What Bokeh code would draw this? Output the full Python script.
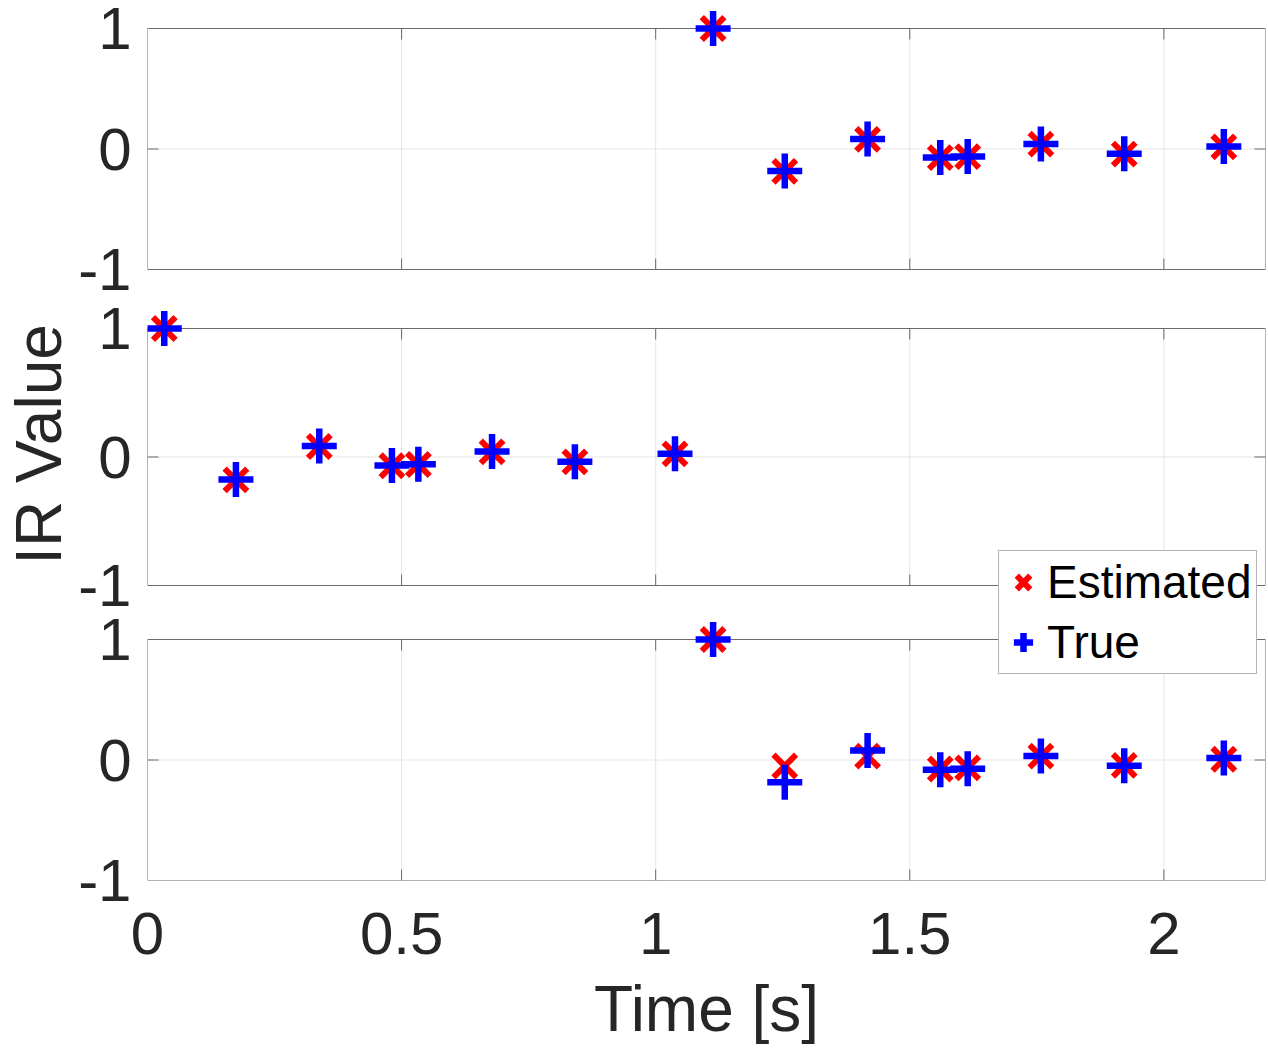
import math
from bokeh.plotting import figure
from bokeh.models import (Range1d, FixedTicker, Legend, LegendItem, CustomJSTickFormatter)
from bokeh.embed import file_html
from bokeh.resources import INLINE

# ---------------- data ----------------
x_top = [1.113, 1.254, 1.417, 1.560, 1.614, 1.758, 1.922, 2.118]
est_top = [1.0, -0.186, 0.080, -0.072, -0.063, 0.040, -0.042, 0.018]
true_top = [1.0, -0.183, 0.083, -0.070, -0.062, 0.042, -0.040, 0.020]

x_mid = [0.033, 0.174, 0.338, 0.481, 0.533, 0.678, 0.841, 1.038]
est_mid = [1.0, -0.178, 0.082, -0.068, -0.058, 0.040, -0.038, 0.024]
true_mid = [1.0, -0.175, 0.085, -0.066, -0.057, 0.042, -0.036, 0.026]

x_bot = [1.113, 1.254, 1.417, 1.560, 1.614, 1.758, 1.922, 2.118]
est_bot = [1.0, -0.050, 0.032, -0.075, -0.065, 0.032, -0.045, 0.006]
true_bot = [1.0, -0.185, 0.078, -0.080, -0.072, 0.034, -0.047, 0.016]

x_ticks = [0, 0.5, 1, 1.5, 2]
x_tick_labels = ["0", "0.5", "1", "1.5", "2"]
y_ticks = [-1, 0, 1]
y_tick_labels = ["-1", "0", "1"]
x_min, x_max = 0, 2.2
y_min, y_max = -1, 1

# ---------------- layout constants (pixels) ----------------
W, H = 1268, 1049
FL, FR = 147, 1265          # frame left/right
FT, FB = 8, 880             # frame top/bottom
panels_px = {"top": (28, 269), "mid": (328, 585), "bot": (639, 880)}
TICK_PX = 11
FONT = "Liberation Sans"
AX_COL = "#262626"
BOX_COL = "#6a6a6a"
GRID_COL = "#e6e6e6"


def panel_range(p1, pm1):
    u = (y_max - y_min) / (pm1 - p1)
    return Range1d(start=y_min - (FB - pm1) * u, end=y_max + (p1 - FT) * u), u


ranges = {}
units = {}
for k, (a, b) in panels_px.items():
    ranges[k], units[k] = panel_range(a, b)

p = figure(frame_width=FR - FL, frame_height=FB - FT,
           x_range=Range1d(start=x_min, end=x_max), y_range=ranges["bot"],
           output_backend="svg", toolbar_location=None,
           min_border_left=FL, min_border_right=W - FR,
           min_border_top=FT, min_border_bottom=H - FB)
p.extra_y_ranges = {"top": ranges["top"], "mid": ranges["mid"]}
p.outline_line_color = None
p.grid.visible = False
p.background_fill_color = "white"
p.border_fill_color = "white"

# x axis (bottom)
xa = p.xaxis[0]
xa.ticker = FixedTicker(ticks=x_ticks)
xa.major_label_overrides = {t: l for t, l in zip(x_ticks, x_tick_labels)}
xa.axis_line_color = None
xa.major_tick_in = 0
xa.major_tick_out = 0
xa.minor_tick_line_color = None
xa.major_label_text_font = FONT
xa.major_label_text_font_size = "60px"
xa.major_label_text_color = AX_COL
xa.major_label_standoff = 32
xa.axis_label = "Time [s]"
xa.axis_label_text_font = FONT
xa.axis_label_text_font_size = "64px"
xa.axis_label_text_font_style = "normal"
xa.axis_label_text_color = AX_COL
xa.axis_label_standoff = 16

# left axis: one axis on the bottom panel's range, with every panel's ticks
# mapped into it through the panels' own ranges
rb = ranges["bot"]
left_pos, left_lab = [], []
for k in ["bot", "mid", "top"]:
    r = ranges[k]
    for v, lab in zip(y_ticks, y_tick_labels):
        f = (v - r.start) / (r.end - r.start)
        left_pos.append(rb.start + f * (rb.end - rb.start))
        left_lab.append(lab)

ya = p.yaxis[0]
ya.ticker = FixedTicker(ticks=left_pos)
ya.formatter = CustomJSTickFormatter(args=dict(pos=left_pos, labels=left_lab), code="""
    let best = 0, d = Infinity;
    for (let i = 0; i < pos.length; i++) {
        const e = Math.abs(pos[i] - tick);
        if (e < d) { d = e; best = i; }
    }
    return labels[best];
""")
ya.axis_line_color = None
ya.major_tick_in = 0
ya.major_tick_out = 0
ya.minor_tick_line_color = None
ya.major_label_text_font = FONT
ya.major_label_text_font_size = "60px"
ya.major_label_text_color = AX_COL
ya.major_label_standoff = 16
ya.axis_label = "IR Value"
ya.axis_label_text_font = FONT
ya.axis_label_text_font_size = "64px"
ya.axis_label_text_font_style = "normal"
ya.axis_label_text_color = AX_COL
ya.axis_label_standoff = 0

rend = {}
data = {"top": (x_top, est_top, true_top),
        "mid": (x_mid, est_mid, true_mid),
        "bot": (x_bot, est_bot, true_bot)}

tick_dx = TICK_PX * (x_max - x_min) / (FR - FL)
inner_x = [t for t in x_ticks if x_min < t < x_max]
inner_y = [t for t in y_ticks if y_min < t < y_max]

for k in ["top", "mid", "bot"]:
    rn = "default" if k == "bot" else k
    xs, est, tru = data[k]
    tick_dy = TICK_PX * units[k]
    # grid
    p.segment(x0=inner_x, x1=inner_x, y0=[y_min] * len(inner_x), y1=[y_max] * len(inner_x),
              line_color=GRID_COL, line_width=1, y_range_name=rn)
    p.segment(x0=[x_min] * len(inner_y), x1=[x_max] * len(inner_y), y0=inner_y, y1=inner_y,
              line_color=GRID_COL, line_width=1, y_range_name=rn)
    # ticks (inside)
    p.segment(x0=inner_x, x1=inner_x, y0=[y_min] * len(inner_x),
              y1=[y_min + tick_dy] * len(inner_x), line_color=BOX_COL, line_width=1, y_range_name=rn)
    p.segment(x0=inner_x, x1=inner_x, y0=[y_max] * len(inner_x),
              y1=[y_max - tick_dy] * len(inner_x), line_color=BOX_COL, line_width=1, y_range_name=rn)
    p.segment(x0=[x_min] * len(inner_y), x1=[x_min + tick_dx] * len(inner_y), y0=inner_y, y1=inner_y,
              line_color=BOX_COL, line_width=1, y_range_name=rn)
    p.segment(x0=[x_max] * len(inner_y), x1=[x_max - tick_dx] * len(inner_y), y0=inner_y, y1=inner_y,
              line_color=BOX_COL, line_width=1, y_range_name=rn)
    # box
    p.quad(left=[x_min], right=[x_max], bottom=[y_min], top=[y_max], fill_color=None,
           line_color=BOX_COL, line_width=1, y_range_name=rn)
    # markers
    r_est = p.scatter(xs, est, marker="x", size=32, line_color="#ff0000", line_width=6,
                      y_range_name=rn)
    r_true = p.scatter(xs, tru, marker="cross", size=35, line_color="#0000ff", line_width=6.5,
                       y_range_name=rn)
    rend[k] = (r_est, r_true)

legend = Legend(items=[LegendItem(label="Estimated", renderers=[rend["bot"][0]]),
                       LegendItem(label="True", renderers=[rend["bot"][1]])],
                location=(851, 206), orientation="vertical",
                label_text_font=FONT, label_text_font_size="46px", label_text_color="black",
                glyph_width=48, glyph_height=60, label_height=50, label_width=205,
                label_standoff=0, spacing=0, padding=dict(left=0, right=4, top=1, bottom=1),
                margin=0,
                border_line_color=BOX_COL, border_line_width=1,
                background_fill_color="white", background_fill_alpha=1.0)
p.add_layout(legend)

open("out.html", "w").write(file_html(p, INLINE))
